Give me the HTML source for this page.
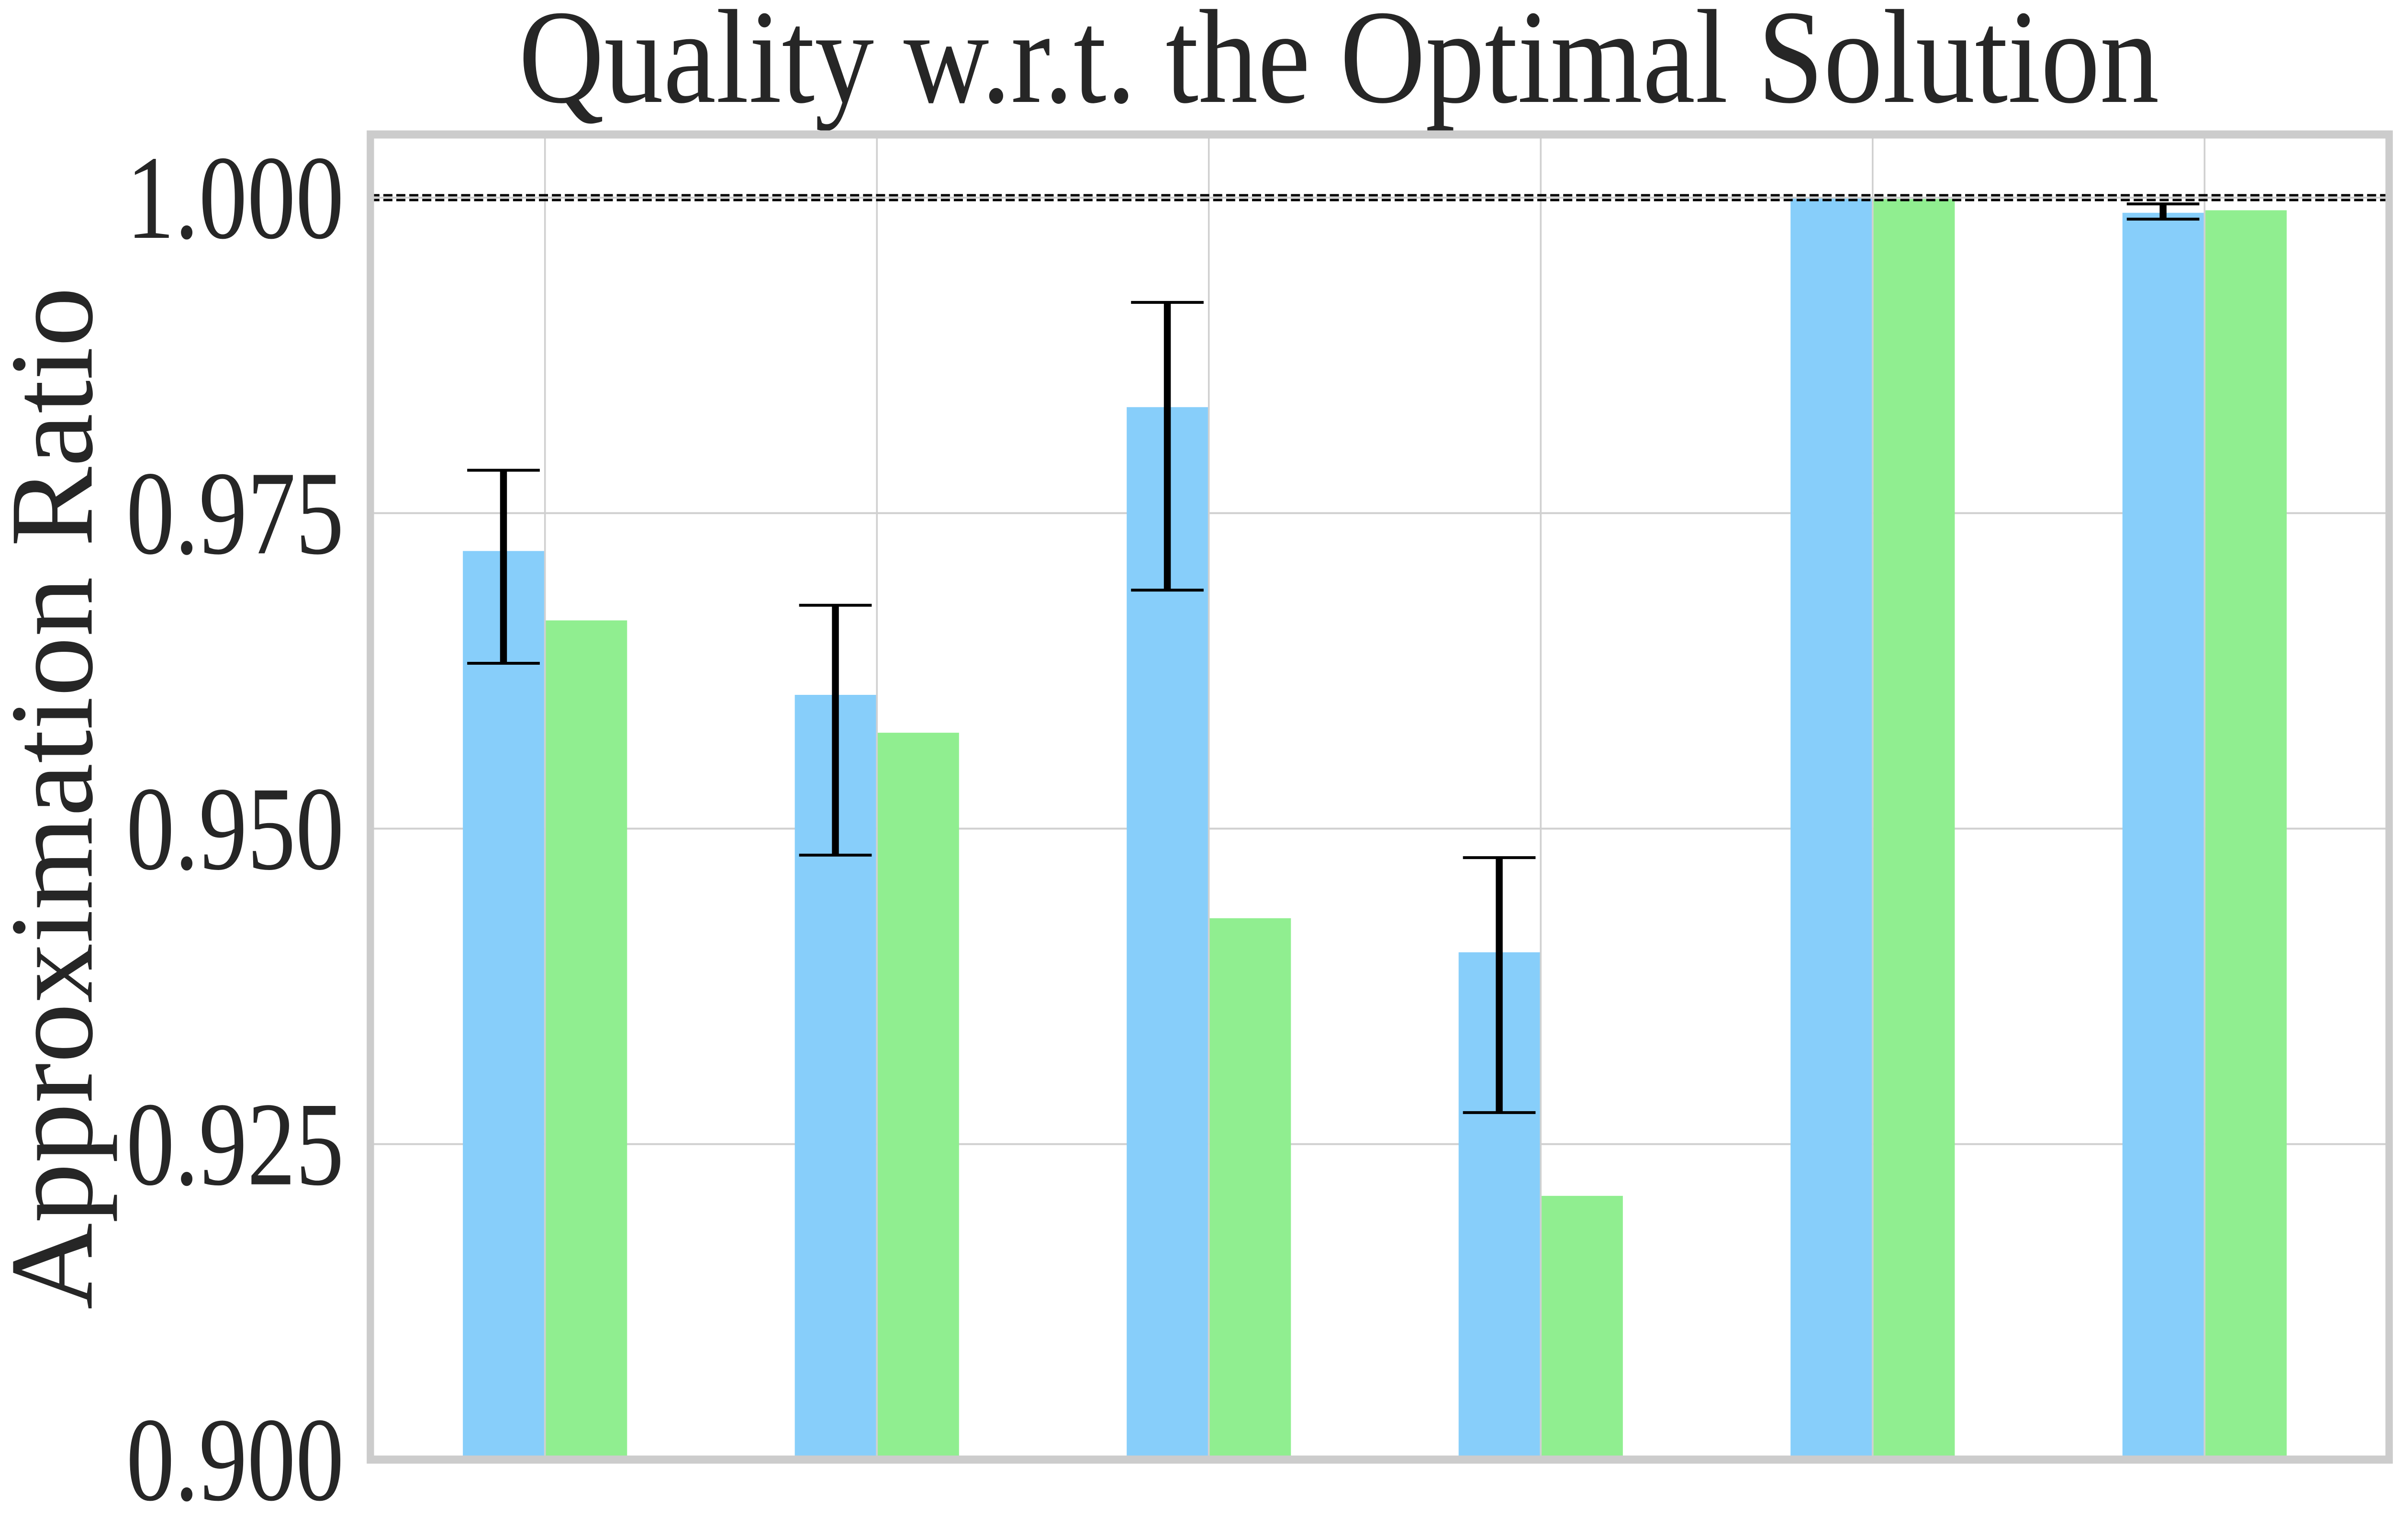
<!DOCTYPE html>
<html><head><meta charset="utf-8"><style>
html,body{margin:0;padding:0;background:#fff;overflow:hidden;width:100vw;height:100vh;}
svg{display:block;width:100vw;height:100vh;}
text{font-family:"Liberation Serif",serif;fill:#262626;}
</style></head><body>
<svg id="chart" viewBox="0 0 5537 3218" preserveAspectRatio="none" xmlns="http://www.w3.org/2000/svg">
<text x="3098" y="213" font-size="280" text-anchor="middle" textLength="3796" lengthAdjust="spacingAndGlyphs">Quality w.r.t. the Optimal Solution</text>
<text transform="translate(212,1668) rotate(-90)" font-size="275" text-anchor="middle" textLength="2137" lengthAdjust="spacingAndGlyphs">Approximation Ratio</text>
<g id="grid"></g>
<g id="bars"></g>
<g id="refline"></g>
<g id="errs"></g>
<g id="ticks"></g>
<rect x="857" y="281" width="4671" height="2769" fill="none" stroke="#cccccc" stroke-width="17"/>
</svg>
<script>
const categories = ["g1","g2","g3","g4","g5","g6"];
const blueValues = [0.9720, 0.9606, 0.9834, 0.9402, 1.0000, 0.9988];
const greenValues = [0.9665, 0.9576, 0.9429, 0.9209, 0.9999, 0.9990];
const errLow = [0.9631, 0.9479, 0.9689, 0.9275, 1.0000, 0.9983];
const errHigh = [0.9784, 0.9677, 0.9917, 0.9477, 1.0000, 0.9995];
const yTicks = [0.900, 0.925, 0.950, 0.975, 1.000];
const yTickLabels = ["0.900","0.925","0.950","0.975","1.000"];
const refValue = 1.0;

const NS = "http://www.w3.org/2000/svg";
const AX = {left:857, right:5528, top:281, bottom:3050};
function y(v){ return 413 + (1 - v) * 26370; }
function xc(i){ return 1261 + 768 * i; }
const BW = 188;
function mk(tag, attrs, parent){
  const e = document.createElementNS(NS, tag);
  for (const k in attrs) e.setAttribute(k, attrs[k]);
  parent.appendChild(e); return e;
}
const grid = document.getElementById('grid');
const bars = document.getElementById('bars');
const ref = document.getElementById('refline');
const errs = document.getElementById('errs');
const ticks = document.getElementById('ticks');

yTicks.forEach((t, i) => {
  const l = mk('line', {x1:AX.left, x2:AX.right, y1:y(t), y2:y(t), stroke:'#d0d0d0', 'stroke-width':4}, grid);
  
  
  const tx = mk('text', {x:796, y:y(t)+84, 'font-size':250, 'text-anchor':'end', textLength:504, lengthAdjust:'spacingAndGlyphs'}, ticks);
  tx.textContent = yTickLabels[i];
  
  
});
categories.forEach((c, i) => {
  const l = mk('line', {x1:xc(i), x2:xc(i), y1:AX.top, y2:AX.bottom, stroke:'#d0d0d0', 'stroke-width':4}, grid);
  
  
  const b = mk('rect', {x:xc(i)-BW-2, y:y(blueValues[i]), width:BW, height:y(0.9)-y(blueValues[i]), fill:'#87CEFA'}, bars);
  
  
  const g = mk('rect', {x:xc(i)+2, y:y(greenValues[i]), width:BW, height:y(0.9)-y(greenValues[i]), fill:'#90EE90'}, bars);
  
  
});
[408, 418].forEach(off => {
  const d = mk('line', {x1:AX.left, x2:AX.right, y1:y(refValue)+off-413, y2:y(refValue)+off-413, stroke:'#000', 'stroke-width':5, 'stroke-dasharray':'21 9'}, ref);
  
  
});
const gl = mk('line', {x1:AX.left, x2:AX.right, y1:y(refValue), y2:y(refValue), stroke:'#d0d0d0', 'stroke-width':4}, ref);


categories.forEach((c, i) => {
  if (errHigh[i] - errLow[i] < 1e-6) return;
  const cx = xc(i) - BW/2 - 2;
  const s = mk('line', {x1:cx, x2:cx, y1:y(errHigh[i]), y2:y(errLow[i]), stroke:'#000', 'stroke-width':16}, errs);
  
  
  [errHigh[i], errLow[i]].forEach(v => {
    const cap = mk('line', {x1:cx-84, x2:cx+84, y1:y(v), y2:y(v), stroke:'#000', 'stroke-width':6}, errs);
    
    
  });
});
</script>
</body></html>
